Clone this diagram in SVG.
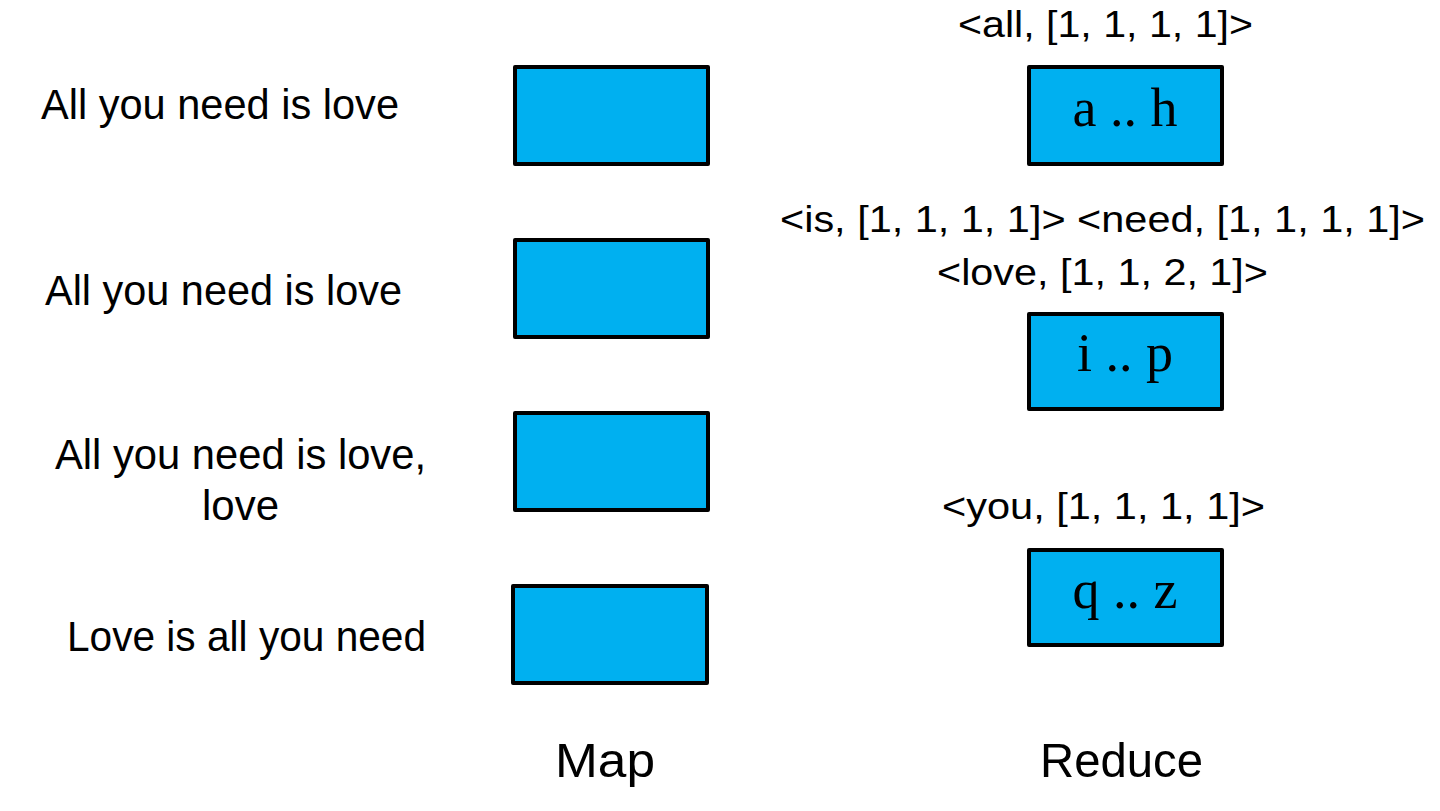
<svg xmlns="http://www.w3.org/2000/svg" width="1440" height="811" viewBox="0 0 1440 811">
<style>
.box{fill:#00B0F0;stroke:#000;stroke-width:4;stroke-linejoin:round}
.lbl{font-family:"Liberation Sans",Arial,sans-serif;font-size:42px;fill:#000}
.kv{font-family:"Liberation Sans",Arial,sans-serif;font-size:37px;fill:#000}
.rng{font-family:"Liberation Serif","Times New Roman",serif;font-size:54px;fill:#000;text-anchor:middle}
.hdr{font-family:"Liberation Sans",Arial,sans-serif;font-size:49px;fill:#000}
</style>
<rect width="1440" height="811" fill="#fff"/>
<g id="connectors"></g>
<g id="input1"><text class="lbl" x="41" y="119" textLength="358" lengthAdjust="spacingAndGlyphs">All you need is love</text></g>
<g id="input2"><text class="lbl" x="45" y="305" textLength="357" lengthAdjust="spacingAndGlyphs">All you need is love</text></g>
<g id="input3"><text class="lbl" x="55" y="469" textLength="371" lengthAdjust="spacingAndGlyphs">All you need is love,</text><text class="lbl" x="202" y="520" textLength="77" lengthAdjust="spacingAndGlyphs">love</text></g>
<g id="input4"><text class="lbl" x="67" y="651" textLength="359" lengthAdjust="spacingAndGlyphs">Love is all you need</text></g>
<g id="map1"><rect class="box" x="515" y="67" width="193" height="97"/></g>
<g id="map2"><rect class="box" x="515" y="240" width="193" height="97"/></g>
<g id="map3"><rect class="box" x="515" y="413" width="193" height="97"/></g>
<g id="map4"><rect class="box" x="513" y="586" width="194" height="97"/></g>
<g id="reduce1"><rect class="box" x="1029" y="67" width="193" height="97"/><text class="rng" x="1125" y="126">a .. h</text></g>
<g id="reduce2"><rect class="box" x="1029" y="314" width="193" height="95"/><text class="rng" x="1125" y="371">i .. p</text></g>
<g id="reduce3"><rect class="box" x="1029" y="550" width="193" height="95"/><text class="rng" x="1125" y="608">q .. z</text></g>
<g id="kv-all"><text class="kv" x="958" y="37" textLength="295" lengthAdjust="spacingAndGlyphs">&lt;all, [1, 1, 1, 1]&gt;</text></g>
<g id="kv-is-need"><text class="kv" x="780" y="232" textLength="645" lengthAdjust="spacingAndGlyphs">&lt;is, [1, 1, 1, 1]&gt; &lt;need, [1, 1, 1, 1]&gt;</text></g>
<g id="kv-love"><text class="kv" x="937" y="285" textLength="331" lengthAdjust="spacingAndGlyphs">&lt;love, [1, 1, 2, 1]&gt;</text></g>
<g id="kv-you"><text class="kv" x="942" y="519" textLength="323" lengthAdjust="spacingAndGlyphs">&lt;you, [1, 1, 1, 1]&gt;</text></g>
<g id="hdr-map"><text class="hdr" x="555" y="777" textLength="100" lengthAdjust="spacingAndGlyphs">Map</text></g>
<g id="hdr-reduce"><text class="hdr" x="1040" y="777" textLength="163" lengthAdjust="spacingAndGlyphs">Reduce</text></g>
</svg>
